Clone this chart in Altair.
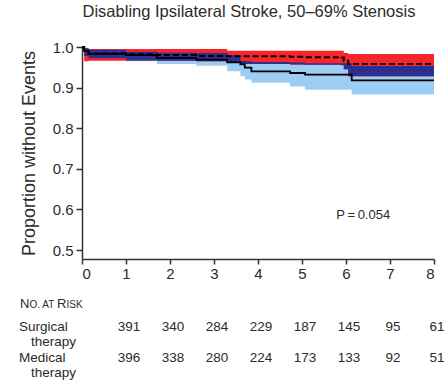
import altair as alt
import pandas as pd

# ---- data ----
times = [0, 0.05, 0.15, 1.0, 1.7, 2.6, 3.3, 3.6, 3.7, 3.85, 4.73, 5.07, 5.9, 5.95, 6.05, 6.13, 8.0]

surg_est = [1.0, 0.990, 0.984, 0.982, 0.980, 0.978, 0.977, 0.977, 0.977, 0.977, 0.976, 0.975, 0.974, 0.966, 0.958, 0.958, 0.958]
surg_hi = [1.0, 0.997, 0.995, 0.995, 0.995, 0.995, 0.991, 0.991, 0.991, 0.991, 0.991, 0.991, 0.991, 0.985, 0.983, 0.983, 0.983]
surg_lo = [1.0, 0.965, 0.966, 0.967, 0.966, 0.965, 0.963, 0.958, 0.958, 0.958, 0.957, 0.956, 0.955, 0.945, 0.928, 0.928, 0.928]

med_est = [1.0, 0.990, 0.983, 0.980, 0.973, 0.969, 0.962, 0.957, 0.949, 0.940, 0.936, 0.932, 0.932, 0.932, 0.932, 0.918, 0.918]
med_hi = [1.0, 0.998, 0.993, 0.988, 0.986, 0.985, 0.980, 0.966, 0.965, 0.963, 0.962, 0.960, 0.960, 0.960, 0.960, 0.953, 0.953]
med_lo = [1.0, 0.978, 0.972, 0.965, 0.958, 0.954, 0.940, 0.928, 0.920, 0.912, 0.903, 0.895, 0.895, 0.895, 0.895, 0.883, 0.883]

risk_years = [1, 2, 3, 4, 5, 6, 7, 8]
surgical_risk = [391, 340, 284, 229, 187, 145, 95, 61]
medical_risk = [396, 338, 280, 224, 173, 133, 92, 51]

x_ticks = [0, 1, 2, 3, 4, 5, 6, 7, 8]
y_ticks = [0.5, 0.6, 0.7, 0.8, 0.9, 1.0]

title_text = "Disabling Ipsilateral Stroke, 50\u201369% Stenosis"
y_title = "Proportion without Events"
p_text = "P\u2009=\u20090.054"
p_pos = [6.39, 0.586]

# ---- layout ----
W, H = 352, 212
LEFT, TOP = 82, 47
FONT = "Liberation Sans"
TXT = "#2b2b2b"

RED = "#F8262B"
LIGHT = "#9DCDF3"
NAVY = "#2C2F8E"

df = pd.DataFrame(dict(t=times, s_est=surg_est, s_hi=surg_hi, s_lo=surg_lo,
                       m_est=med_est, m_hi=med_hi, m_lo=med_lo))

xscale = alt.Scale(domain=[0, 8], nice=False)
yscale = alt.Scale(domain=[0.478, 1.0], nice=False, zero=False)

xaxis = alt.Axis(values=x_ticks, format="d", title=None, grid=False,
                 labelFont=FONT, labelFontSize=15, labelColor=TXT,
                 domainColor="#333", domainWidth=1.5, tickColor="#333",
                 tickWidth=1.5, tickSize=5, labelPadding=2)
yaxis = alt.Axis(values=y_ticks, format=".1f", title=y_title, grid=False,
                 labelFont=FONT, labelFontSize=15, labelColor=TXT,
                 titleFont=FONT, titleFontSize=18, titleFontWeight="normal",
                 titleColor=TXT, titlePadding=14,
                 domainColor="#333", domainWidth=1.5, tickColor="#333",
                 tickWidth=1.5, tickSize=6, labelPadding=3)

base = alt.Chart(df)
X = alt.X("t:Q", scale=xscale, axis=xaxis)

med_band = base.mark_area(interpolate="step-after", color=LIGHT, opacity=1).encode(
    x=X, y=alt.Y("m_lo:Q", scale=yscale, axis=yaxis), y2="m_hi:Q")
surg_band = base.mark_area(interpolate="step-after", color=RED, opacity=1).encode(
    x="t:Q", y="s_lo:Q", y2="s_hi:Q")
overlap = base.transform_calculate(
    o_lo="max(datum.s_lo, datum.m_lo)",
    o_hi="max(min(datum.s_hi, datum.m_hi), max(datum.s_lo, datum.m_lo))",
).mark_area(interpolate="step-after", color=NAVY, opacity=1).encode(
    x="t:Q", y="o_lo:Q", y2="o_hi:Q")
surg_line = base.mark_line(interpolate="step-after", color="black", strokeWidth=2,
                           strokeDash=[6, 3]).encode(x="t:Q", y="s_est:Q")
med_line = base.mark_line(interpolate="step-after", color="black", strokeWidth=1.8).encode(
    x="t:Q", y="m_est:Q")

p_df = pd.DataFrame({"t": [p_pos[0]], "v": [p_pos[1]], "label": [p_text]})
p_label = alt.Chart(p_df).mark_text(font=FONT, fontSize=13, color=TXT, align="center",
                                    baseline="middle").encode(
    x="t:Q", y="v:Q", text="label:N")

# title as text
title_df = pd.DataFrame({"label": [title_text]})
title_mark = alt.Chart(title_df).mark_text(font=FONT, fontSize=16.5, color=TXT, align="center",
                                           baseline="middle").encode(
    x=alt.value(167), y=alt.value(12 - TOP), text="label:N")

# at-risk table
ROW_S, ROW_S2, ROW_M, ROW_M2 = 327, 342, 358, 373
risk_df = pd.DataFrame({"t": risk_years * 2,
                        "n": surgical_risk + medical_risk,
                        "row": ["s"] * 8 + ["m"] * 8})
surg_nums = alt.Chart(risk_df).transform_filter("datum.row == 's'").mark_text(
    font=FONT, fontSize=13.5, color=TXT, align="center", baseline="middle", dx=3).encode(
    x="t:Q", y=alt.value(ROW_S - TOP), text="n:Q")
med_nums = alt.Chart(risk_df).transform_filter("datum.row == 'm'").mark_text(
    font=FONT, fontSize=13.5, color=TXT, align="center", baseline="middle", dx=3).encode(
    x="t:Q", y=alt.value(ROW_M - TOP), text="n:Q")

row_labels = pd.DataFrame({
    "label": ["Surgical", "therapy", "Medical", "therapy"],
    "px": [19 - LEFT, 31 - LEFT, 19 - LEFT, 31 - LEFT],
    "py": [ROW_S - TOP, ROW_S2 - TOP, ROW_M - TOP, ROW_M2 - TOP],
})
row_text = alt.Chart(row_labels).mark_text(font=FONT, fontSize=13.5, color=TXT, align="left",
                                           baseline="middle").encode(
    x=alt.X("px:Q", scale=None), y=alt.Y("py:Q", scale=None), text="label:N")

# "No. at Risk" in small caps, built from pieces
sc = pd.DataFrame({
    "label": ["N", "O. AT", "R", "ISK"],
    "px": [20 - LEFT, 29.5 - LEFT, 57 - LEFT, 66.5 - LEFT],
    "size": [13, 10, 13, 10],
})
sc_text = alt.Chart(sc).mark_text(font=FONT, color=TXT, align="left",
                                  baseline="alphabetic").encode(
    x=alt.X("px:Q", scale=None), y=alt.value(308 - TOP), text="label:N",
    size=alt.Size("size:Q", scale=None, legend=None))

chart = alt.layer(
    med_band, surg_band, overlap, surg_line, med_line, p_label,
    title_mark, surg_nums, med_nums, row_text, sc_text
).properties(
    width=W, height=H,
    autosize=alt.AutoSizeParams(type="none"),
    padding={"left": LEFT, "top": TOP, "right": 446 - LEFT - W, "bottom": 388 - TOP - H},
    background="white",
).configure_view(stroke=None)

chart.save("out.html", embed_options={"renderer": "svg", "actions": False})
